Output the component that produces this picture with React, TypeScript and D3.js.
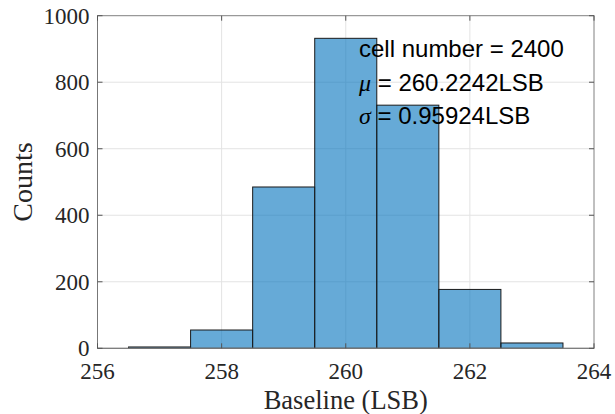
import React from "react";
import { scaleLinear } from "d3";

// histogram bins (LSB) and counts
const binEdges = [256.5, 257.5, 258.5, 259.5, 260.5, 261.5, 262.5, 263.5];
const counts = [4, 55, 485, 932, 731, 177, 16];
const xTicks = [256, 258, 260, 262, 264];
const yTicks = [0, 200, 400, 600, 800, 1000];
const statLines = [
  { sym: "", text: "cell number = 2400" },
  { sym: "μ", text: " = 260.2242LSB" },
  { sym: "σ", text: " = 0.95924LSB" },
];

const W = 615;
const H = 414;
const m = { left: 97.5, right: 594, top: 15.7, bottom: 348.3 };
const serif = "'Liberation Serif', 'Times New Roman', serif";
const sans = "'Liberation Sans', Arial, sans-serif";

const App = () => {
  const x = scaleLinear().domain([256, 264]).range([m.left, m.right]);
  const y = scaleLinear().domain([0, 1000]).range([m.bottom, m.top]);
  const tick = 5;

  return (
    <svg
      width={W}
      height={H}
      style={{ position: "absolute", left: 0, top: 0, background: "#fff" }}
    >
      {/* grid */}
      {xTicks.slice(1, -1).map((t) => (
        <line key={"gx" + t} x1={x(t)} x2={x(t)} y1={m.top} y2={m.bottom} stroke="#e3e3e3" strokeWidth={1} />
      ))}
      {yTicks.slice(1, -1).map((t) => (
        <line key={"gy" + t} x1={m.left} x2={m.right} y1={y(t)} y2={y(t)} stroke="#e3e3e3" strokeWidth={1} />
      ))}

      {/* bars */}
      {counts.map((c, i) => (
        <rect
          key={i}
          x={x(binEdges[i])}
          y={y(c)}
          width={x(binEdges[i + 1]) - x(binEdges[i])}
          height={y(0) - y(c)}
          fill="#0072BD"
          fillOpacity={0.6}
          stroke="#1a1a1a"
          strokeWidth={1}
        />
      ))}

      {/* box */}
      <rect
        x={m.left}
        y={m.top}
        width={m.right - m.left}
        height={m.bottom - m.top}
        fill="none"
        stroke="#808080"
        strokeWidth={1}
      />
      <line x1={m.left} x2={m.right} y1={m.bottom} y2={m.bottom} stroke="#777" />
      <line x1={m.left} x2={m.left} y1={m.top} y2={m.bottom} stroke="#777" />

      {/* ticks */}
      {xTicks.map((t) => (
        <g key={"tx" + t}>
          <line x1={x(t)} x2={x(t)} y1={m.bottom} y2={m.bottom - tick} stroke="#555" />
          <line x1={x(t)} x2={x(t)} y1={m.top} y2={m.top + tick} stroke="#555" />
          <text
            x={x(t)}
            y={378.5}
            textAnchor="middle"
            fontFamily={serif}
            fontSize={23}
            fill="#262626"
          >
            {t}
          </text>
        </g>
      ))}
      {yTicks.map((t) => (
        <g key={"ty" + t}>
          <line x1={m.left} x2={m.left + tick} y1={y(t)} y2={y(t)} stroke="#555" />
          <line x1={m.right} x2={m.right - tick} y1={y(t)} y2={y(t)} stroke="#555" />
          <text
            x={89.5}
            y={y(t) + 8}
            textAnchor="end"
            fontFamily={serif}
            fontSize={23}
            fill="#262626"
          >
            {t}
          </text>
        </g>
      ))}

      {/* axis labels */}
      <text
        x={x(260)}
        y={408.5}
        textAnchor="middle"
        fontFamily={serif}
        fontSize={26.5}
        fill="#262626"
      >
        Baseline (LSB)
      </text>
      <text
        transform={`translate(31.5, ${(m.top + m.bottom) / 2}) rotate(-90)`}
        textAnchor="middle"
        fontFamily={serif}
        fontSize={28}
        fill="#262626"
      >
        Counts
      </text>

      {/* stats annotation */}
      {statLines.map((s, i) => (
        <text
          key={i}
          x={359}
          y={57 + i * 33.5}
          fontFamily={sans}
          fontSize={24}
          fill="#000"
        >
          {s.sym && (
            <tspan fontFamily={serif} fontStyle="italic">
              {s.sym}
            </tspan>
          )}
          <tspan>{s.text}</tspan>
        </text>
      ))}
    </svg>
  );
};

export default App;
